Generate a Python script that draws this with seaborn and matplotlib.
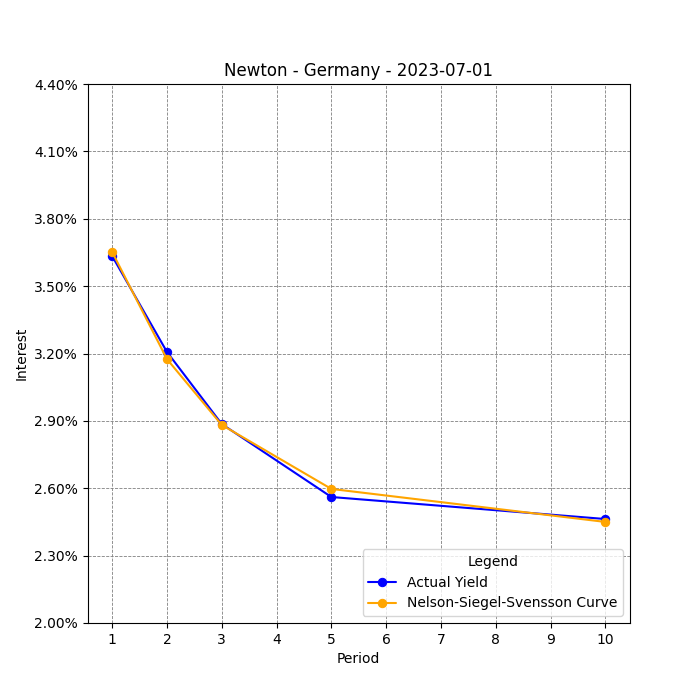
import numpy as np
import pandas as pd
import matplotlib
matplotlib.use("Agg")
import matplotlib.pyplot as plt
import seaborn as sns
from matplotlib.ticker import FuncFormatter

periods = [1, 2, 3, 5, 10]
actual = [3.634, 3.207, 2.886, 2.561, 2.463]
nss = [3.652, 3.175, 2.882, 2.597, 2.450]

df = pd.DataFrame({"Period": periods, "Actual Yield": actual,
                   "Nelson-Siegel-Svensson Curve": nss})

sns.set_style("white")
plt.rcParams["font.family"] = ["DejaVu Sans"]
for k in ["text.color", "axes.labelcolor", "xtick.color", "ytick.color"]:
    plt.rcParams[k] = "black"

fig, ax = plt.subplots(figsize=(7, 7), dpi=100)
sns.lineplot(data=df, x="Period", y="Actual Yield", color="blue", marker="o",
             markersize=6, markeredgecolor="blue", label="Actual Yield", ax=ax)
sns.lineplot(data=df, x="Period", y="Nelson-Siegel-Svensson Curve", color="orange",
             marker="o", markersize=6, markeredgecolor="orange",
             label="Nelson-Siegel-Svensson Curve", ax=ax)

ax.set_ylim(2.0, 4.4)
ax.set_yticks(np.arange(2.0, 4.41, 0.3))
ax.yaxis.set_major_formatter(FuncFormatter(lambda v, _: f"{v:.2f}%"))
ax.set_xticks(range(1, 11))
ax.set_xlim(0.55, 10.45)
ax.grid(True, color="gray", linestyle="--", linewidth=0.6)
for s in ax.spines.values():
    s.set_visible(True)
    s.set_color("black")
ax.tick_params(left=True, bottom=True)
ax.set_title("Newton - Germany - 2023-07-01")
ax.set_xlabel("Period")
ax.set_ylabel("Interest")
ax.legend(title="Legend", loc="lower right")

plt.savefig("out.png")
